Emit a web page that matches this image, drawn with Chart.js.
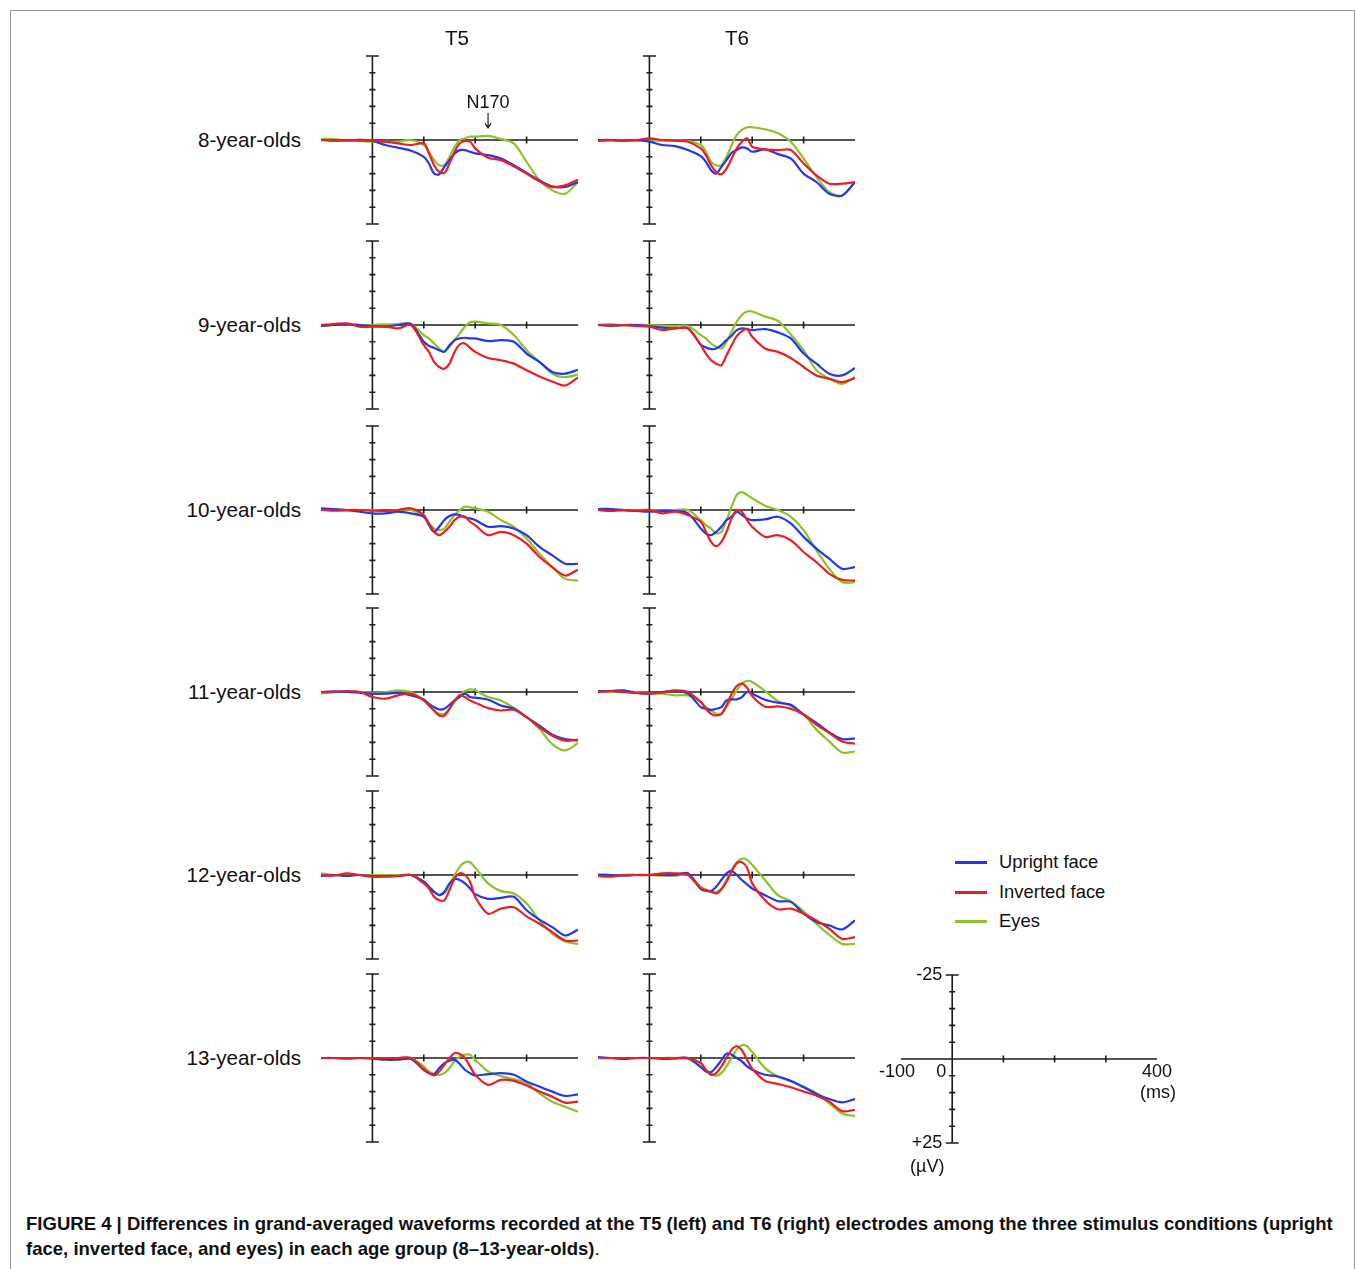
<!DOCTYPE html>
<html>
<head>
<meta charset="utf-8">
<script src="https://cdn.jsdelivr.net/npm/chart.js@4.4.1/dist/chart.umd.min.js"></script>
<style>
  body { margin: 0; background: #fff; }
  #fig { position: relative; width: 1355px; height: 1269px; overflow: hidden;
         font-family: "Liberation Sans", Arial, Helvetica, sans-serif; color: #111; }
  .frame { position: absolute; left: 10px; top: 10px; width: 1343px; height: 1300px; border: 1px solid #9a9a9a; }
  canvas { position: absolute; }
  .lbl { position: absolute; font-size: 20.6px; line-height: 20px; white-space: nowrap; }
  .row { text-align: right; width: 200px; }
  .col { text-align: center; width: 60px; }
  .leg { position: absolute; font-size: 18.4px; line-height: 20px; white-space: nowrap; }
  .leg span { position: absolute; left: -44px; top: 9px; width: 32px; height: 3px; }
  .cap { position: absolute; left: 26px; top: 1211px; font-size: 18.55px; line-height: 25px; font-weight: bold; white-space: nowrap; }
  .cap i { font-style: normal; font-weight: normal; }
</style>
</head>
<body>
<div id="fig">
  <div class="frame"></div>
  <div class="cap">FIGURE 4 | Differences in grand-averaged waveforms recorded at the T5 (left) and T6 (right) electrodes among the three stimulus conditions (upright<br>face, inverted face, and eyes) in each age group (8–13-year-olds)<i>.</i></div>
</div>
<script>
// time points (ms) and values (µV, negative up)
const times = [-100, -75, -50, -25, 0, 25, 50, 75, 100, 110, 120, 130, 140, 150, 160, 170, 180, 190, 200, 225, 250, 275, 300, 325, 350, 375, 400]

const ageGroups = ['8-year-olds', '9-year-olds', '10-year-olds', '11-year-olds', '12-year-olds', '13-year-olds']
const electrodes = ['T5', 'T6']
const conditions = ['Upright face', 'Inverted face', 'Eyes']
const colors = ['rgb(35, 55, 235)', 'rgb(235, 30, 35)', 'rgb(140, 195, 40)']

const xTicks = [100, 200, 300]
const yTicks = [-25, -20, -15, -10, -5, 5, 10, 15, 20, 25]

// 8-year-olds
const up8T5   = [0, 0.2, 0, 0.1, 0.3, 1.5, 2.3, 3.2, 5, 7, 10, 10.2, 8, 6, 4, 3, 3, 3.5, 4, 4.5, 5.5, 7.5, 9.8, 12, 13.8, 14, 12.5]
const inv8T5  = [0, 0.1, 0.2, -0.1, 0.2, 0.5, 1, 1.5, 1, 4, 7.5, 9.5, 9.8, 7, 3.5, 1, 0.3, 0.5, 2.5, 5.3, 6, 7.8, 10, 12.3, 14, 13.5, 11.8]
const eyes8T5 = [-0.3, -0.3, 0.2, 0.3, 0.5, 0.5, 0.5, 0, 1.5, 3.5, 6, 7.5, 7.5, 5, 2, 0, -0.5, -1, -1, -1.2, -0.3, 1, 6.5, 12, 15, 16, 12.5]
const up8T6   = [0, 0, 0.2, 0, 0.5, 1.5, 1.8, 3, 4.8, 6.5, 9, 10, 8, 6, 3.8, 3, 2.2, 2.5, 3.5, 2.8, 4.2, 5.5, 10, 12.5, 16, 16.5, 12.5]
const inv8T6  = [0.3, 0, 0.2, 0, -0.5, 0, 0.2, 0.5, 2.5, 4.5, 7.5, 9.5, 10.2, 8.5, 5.5, 2.5, 0.5, -0.5, 2, 2.8, 3, 3, 7, 10.5, 13, 13, 12.5]
const eyes8T6 = [0, 0.2, 0, 0.3, 0.2, 0.2, 0.2, 0.3, 1.5, 3.5, 6.5, 7.5, 7.5, 5, 1.5, -1.5, -3, -3.8, -3.8, -3.2, -2, 0.5, 5.5, 11, 15.5, 16.5, 12.5]

// 9-year-olds
const up9T5   = [0.3, 0, -0.2, 0, 0.3, 0.5, 0, -0.3, 5, 6.2, 6.8, 7.5, 8, 6, 4.5, 4, 3.8, 4, 4, 4.8, 4.5, 5, 8.5, 11, 14, 14.5, 13.3]
const inv9T5  = [0, -0.3, -0.5, 0.5, 0.5, 0.5, 1, 0, 6, 8, 11, 12.5, 13, 11.5, 8, 5.8, 5.5, 6.8, 8, 9.8, 10.5, 11.5, 13.5, 15.3, 16.8, 18, 15.6]
const eyes9T5 = [0.3, 0, -0.2, 0, 0, -0.2, -0.3, -0.3, 3, 4, 5.5, 7, 7.8, 6.5, 4.5, 2.5, 0.5, -0.8, -1, -0.5, 0, 3, 7.5, 11, 14.5, 15.5, 14.8]
const up9T6   = [0, 0.2, 0, 0, 0.3, 0.8, 1, 1, 5.8, 6.7, 7.2, 7, 6, 4.5, 3.2, 1.5, 1, 1.2, 1.5, 1.2, 2.2, 4, 8.5, 11.5, 14.5, 15, 12.8]
const inv9T6  = [0, 0.2, 0, 0.3, 0.5, 1.5, 1, 1, 6, 8.5, 10.5, 11.5, 12, 9, 6, 3.3, 1.8, 1.2, 3.5, 7, 8, 9.8, 12.5, 15, 16, 17, 15.8]
const eyes9T6 = [0, -0.3, 0.2, 0, 0, 0.2, 0.3, 0.3, 3, 4, 5.5, 6.5, 7, 5, 2, -1, -3, -4, -4, -2.5, -1.2, 2.8, 7.5, 13.5, 16, 17.5, 15.5]

// 10-year-olds
const up10T5   = [-0.5, -0.3, 0, 0.5, 1, 1, 0.5, 1, 2, 4.5, 6.5, 5, 3, 1.8, 1.3, 1.5, 2.2, 2.5, 3, 5, 4.8, 5.5, 7.5, 11, 13.5, 16, 16]
const inv10T5  = [0, 0.2, 0, 0, 0.2, 0.3, 0, -0.5, 1.5, 4, 6.5, 7.5, 6.5, 5, 3, 2, 2, 3.5, 4.5, 7.5, 6.5, 7.5, 10, 14, 17, 19.5, 17.8]
const eyes10T5 = [0, 0, 0.2, 0, 0, 0.3, 0, 0, 2, 4, 5.5, 6, 5.5, 3.5, 1.5, 0, -1, -0.8, -0.5, 0.5, 3, 5, 8.5, 13, 17, 20.5, 21]
const up10T6   = [-0.3, -0.3, 0, 0.3, 0.5, 0.3, 0.3, 1, 5.5, 7, 7.5, 6.5, 5, 3, 2, 0.5, 1.5, 2.5, 3, 2.8, 2, 4, 8, 11.5, 14.5, 17.5, 17]
const inv10T6  = [0, 0.3, 0, 0.2, 0, 1, 0.5, 1.5, 3.5, 6.5, 9.5, 10.8, 9.5, 6.5, 2.5, 0, 0.5, 3, 5, 8, 7.5, 9, 12.5, 15.5, 19, 20.8, 21]
const eyes10T6 = [0, 0, 0.2, 0, 0, 0.2, 0, 0, 3, 4.5, 5.5, 7, 6.5, 3, -1, -4.5, -5.3, -4.5, -3.5, -1.3, 0, 2, 6, 12, 17.5, 21.5, 21.5]

// 11-year-olds
const up11T5   = [0, -0.2, 0, 0.2, 0.5, 0.5, 0.3, 1, 2.2, 3.5, 4.5, 5.2, 5, 3.8, 2.5, 1.5, 0.5, 1.5, 1.7, 2.3, 4, 5, 7.5, 10, 12.7, 14, 14.4]
const inv11T5  = [0, 0, -0.3, 0, 1.5, 2, 1, 0.5, 2.5, 4, 5.5, 7, 7, 5, 2.5, 1, 1.5, 2.5, 3.2, 4.8, 5.5, 5.3, 7.5, 10.5, 13, 14.5, 14.2]
const eyes11T5 = [0.5, 0, -0.3, 0, 0.2, 0, -0.5, 0, 2.5, 4, 5.5, 6.5, 6.5, 5, 3, 1, -0.3, -0.8, -0.5, 1.5, 2.5, 4.7, 7.5, 11, 15.5, 17.4, 15.2]
const up11T6   = [-0.3, -0.3, -0.5, 0.3, 0.5, 0, -0.3, 0.5, 4.5, 5, 5.3, 5, 4.5, 2.5, 2.2, 2.2, 1.5, 0, 0.5, 2.3, 3.2, 3.8, 6.7, 9.2, 12, 14, 13.8]
const inv11T6  = [0, -0.3, 0, 0.3, 0.5, 0.2, -0.5, 0, 3, 5, 6.5, 7, 6.5, 4, 0.5, -1.8, -2.5, -1.3, 1.2, 4.4, 4.3, 5, 6.7, 9.7, 12.2, 14.7, 15.4]
const eyes11T6 = [0, 0, -0.2, 0, 0.3, 0.5, 1, 1, 3, 4.5, 5.5, 6.5, 6.5, 4.5, 2, -0.5, -2.5, -3.3, -3, -0.3, 2.7, 4.2, 6.7, 11.2, 14.7, 18, 17.7]

// 12-year-olds
const up12T5   = [0.3, 0, 0.3, 0, 0.3, 0.3, 0.3, 0, 2, 3.5, 5, 6, 5, 2.5, 1.2, 1.5, 2.5, 4, 5.7, 7.1, 6.8, 6.5, 10.5, 13.3, 15.5, 18, 16.3]
const inv12T5  = [0, 0.2, -0.5, 0, 0.5, 0.5, 0.3, 0, 2.5, 4, 6.5, 7.5, 7.5, 4.5, 1, -0.5, 0, 2, 6.5, 11.5, 10, 9.6, 12.3, 14.5, 17, 19.5, 19.5]
const eyes12T5 = [-0.5, 0, 0, 0, 0, 0, 0, 0, 2, 3.5, 5, 6, 5.5, 3, 0, -2.5, -3.8, -3.8, -2.2, 2.5, 4.8, 5.5, 8.5, 13.5, 17.5, 19.8, 20.5]
const up12T6   = [0, 0, 0.2, 0, 0, 0, 0, -0.5, 4.2, 4.7, 4.8, 3.5, 1.5, -0.5, -1.2, 0, 1.5, 2.8, 4, 6, 7.8, 8, 11.5, 14, 15, 16.2, 13.5]
const inv12T6  = [0.3, 0.5, 0, 0, 0, -0.5, -0.5, 0, 4, 4.5, 5, 5.5, 4.3, 2, -1, -3.5, -3.8, -2.2, 2.5, 7.5, 10.2, 10, 11.5, 13.5, 16, 19, 18.5]
const eyes12T6 = [-0.3, 0, 0, 0, 0, 0.2, 0.2, 0, 3.5, 4.3, 4.8, 5, 4, 1.5, -1.5, -3.8, -4.8, -4.5, -3, 1.5, 6, 7.8, 10.8, 14.5, 17.8, 20.5, 20.5]

// 13-year-olds
const up13T5   = [0, 0, 0.2, 0, 0.2, 0.5, 0.5, 0.3, 3.6, 4.5, 4.8, 3, 1.5, 0.8, 0.5, 1.8, 3.5, 4.5, 5.2, 4.8, 4.5, 5, 7, 8.5, 10, 11.3, 10.8]
const inv13T5  = [0, 0, 0, 0, 0, 0, 0, 0, 3.3, 4.5, 5.2, 4, 2, 0, -1.5, -1.2, 0, 2.5, 5, 8, 6.5, 6.8, 8.2, 10, 11.5, 13.3, 13]
const eyes13T5 = [0, 0, 0, 0, 0, 0, 0, 0, 2.5, 4, 4.8, 5, 4.5, 3, 1, -0.5, -1, -1, 0.5, 4, 5.4, 6.3, 7.5, 10.5, 13, 14.5, 16]
const up13T6   = [-0.3, 0, 0.3, 0, 0, 0.3, 0.2, 0, 2.7, 4, 4.2, 2.7, 0.7, -1.3, -1, 0, 1, 2.5, 3.5, 5, 5.5, 6.8, 8.7, 10.7, 12.2, 13.2, 12.2]
const inv13T6  = [0, 0, 0, 0, 0, 0, 0, 0, 1.5, 3.5, 5, 4.5, 2.5, 0, -2.5, -3.5, -2.3, 0.5, 3.2, 6.8, 7.7, 8.7, 10, 11.2, 13, 15.8, 15.4]
const eyes13T6 = [0, 0, 0, 0, 0, 0, 0, 0.3, 2.5, 3.5, 4.5, 5.3, 4.5, 2.5, 0, -2.5, -3.8, -3.5, -1.8, 3, 5.5, 7, 8.5, 10.5, 13.5, 16.5, 17.3]

const panelData = [
  [[up8T5, inv8T5, eyes8T5], [up8T6, inv8T6, eyes8T6]],
  [[up9T5, inv9T5, eyes9T5], [up9T6, inv9T6, eyes9T6]],
  [[up10T5, inv10T5, eyes10T5], [up10T6, inv10T6, eyes10T6]],
  [[up11T5, inv11T5, eyes11T5], [up11T6, inv11T6, eyes11T6]],
  [[up12T5, inv12T5, eyes12T5], [up12T6, inv12T6, eyes12T6]],
  [[up13T5, inv13T5, eyes13T5], [up13T6, inv13T6, eyes13T6]]
]

// layout (plot area of every panel)
const colLeft = [321, 598]
const rowTop = [56, 241, 426, 608, 791, 974]
const plotW = 257
const plotH = 168
const pad = 8
const fig = document.getElementById('fig')

// draws the cross-shaped axes with their ticks
const erpAxes = {
  id: 'erpAxes',
  beforeDatasetsDraw(chart) {
    const { ctx, scales: { x, y } } = chart
    const x0 = x.getPixelForValue(0)
    const y0 = y.getPixelForValue(0)
    ctx.save()
    ctx.strokeStyle = '#1c1c1c'
    ctx.lineWidth = 1.6
    ctx.beginPath()
    ctx.moveTo(x.getPixelForValue(x.min), y0)
    ctx.lineTo(x.getPixelForValue(x.max), y0)
    ctx.moveTo(x0, y.getPixelForValue(y.min))
    ctx.lineTo(x0, y.getPixelForValue(y.max))
    xTicks.forEach(v => {
      const px = x.getPixelForValue(v)
      ctx.moveTo(px, y0 - 3.5)
      ctx.lineTo(px, y0 + 3.5)
    })
    yTicks.forEach(v => {
      const py = y.getPixelForValue(v)
      const half = (v === y.min || v === y.max) ? 6.5 : 3
      ctx.moveTo(x0 - half, py)
      ctx.lineTo(x0 + half, py)
    })
    ctx.stroke()
    ctx.restore()
  }
}

// text labels placed at axis values (with small pixel offsets)
const axisText = {
  id: 'axisText',
  afterDraw(chart, args, opts) {
    if (!opts.items) return
    const { ctx, scales: { x, y } } = chart
    ctx.save()
    ctx.fillStyle = '#111'
    ctx.font = opts.font
    ctx.textBaseline = 'middle'
    opts.items.forEach(it => {
      ctx.textAlign = it.align || 'center'
      ctx.fillText(it.text, x.getPixelForValue(it.x) + (it.dx || 0), y.getPixelForValue(it.y) + (it.dy || 0))
    })
    if (opts.arrow) {
      const a = opts.arrow
      const ax = x.getPixelForValue(a.x)
      const yTop = y.getPixelForValue(a.from)
      const yTip = y.getPixelForValue(a.to)
      ctx.strokeStyle = '#111'
      ctx.lineWidth = 1.1
      ctx.beginPath()
      ctx.moveTo(ax, yTop)
      ctx.lineTo(ax, yTip)
      ctx.moveTo(ax - 3, yTip - 4.5)
      ctx.lineTo(ax, yTip)
      ctx.lineTo(ax + 3, yTip - 4.5)
      ctx.stroke()
    }
    ctx.restore()
  }
}

function makeChart(left, top, w, h, padding, datasets, textOpts) {
  const canvas = document.createElement('canvas')
  const p = typeof padding === 'number' ? { left: padding, right: padding, top: padding, bottom: padding } : padding
  canvas.width = w + p.left + p.right
  canvas.height = h + p.top + p.bottom
  canvas.style.left = (left - p.left) + 'px'
  canvas.style.top = (top - p.top) + 'px'
  fig.appendChild(canvas)
  return new Chart(canvas.getContext('2d'), {
    type: 'line',
    data: { datasets: datasets },
    options: {
      responsive: false,
      animation: false,
      devicePixelRatio: 1,
      events: [],
      layout: { padding: p },
      plugins: {
        legend: { display: false },
        tooltip: { enabled: false },
        axisText: textOpts || {}
      },
      scales: {
        x: { type: 'linear', min: -100, max: 400, display: false },
        y: { type: 'linear', min: -25, max: 25, reverse: true, display: false }
      },
      elements: { point: { radius: 0 }, line: { borderWidth: 2.2, tension: 0.3 } }
    },
    plugins: [erpAxes, axisText]
  })
}

panelData.forEach((row, r) => {
  row.forEach((series, c) => {
    // red drawn on top, then blue, then green
    const order = [1, 0, 2]
    const datasets = order.map(k => ({
      label: conditions[k],
      data: times.map((t, i) => ({ x: t, y: series[k][i] })),
      borderColor: colors[k],
      borderWidth: 2.2,
      fill: false
    }))
    const textOpts = (r === 0 && c === 0) ? {
      font: '18px "Liberation Sans", Arial, sans-serif',
      items: [{ text: 'N170', x: 225, y: -11 }],
      arrow: { x: 225, from: -8, to: -3.6 }
    } : {}
    makeChart(colLeft[c], rowTop[r], plotW, plotH, pad, datasets, textOpts)
  })
  const lab = document.createElement('div')
  lab.className = 'lbl row'
  lab.textContent = ageGroups[r]
  lab.style.left = (301 - 200) + 'px'
  lab.style.top = (rowTop[r] + plotH / 2 - 10) + 'px'
  fig.appendChild(lab)
})

electrodes.forEach((name, c) => {
  const d = document.createElement('div')
  d.className = 'lbl col'
  d.textContent = name
  d.style.left = ([457, 737][c] - 30) + 'px'
  d.style.top = '28px'
  fig.appendChild(d)
})

// legend
conditions.forEach((name, k) => {
  const d = document.createElement('div')
  d.className = 'leg'
  d.style.left = '999px'
  d.style.top = (852 + k * 29.5) + 'px'
  d.innerHTML = '<span style="background:' + colors[k] + '"></span>' + name
  fig.appendChild(d)
})

// calibration scale
makeChart(901, 975, 256, 168, { left: 40, right: 30, top: 15, bottom: 40 }, [], {
  font: '18px "Liberation Sans", Arial, sans-serif',
  items: [
    { text: '-25', x: 0, y: -25, dx: -10, align: 'right' },
    { text: '+25', x: 0, y: 25, dx: -10, align: 'right' },
    { text: '(\u00b5V)', x: 0, y: 25, dx: -25, dy: 24 },
    { text: '-100', x: -100, y: 0, dx: -4, dy: 13 },
    { text: '0', x: 0, y: 0, dx: -11, dy: 13 },
    { text: '400', x: 400, y: 0, dy: 13 },
    { text: '(ms)', x: 400, y: 0, dx: 1, dy: 34 }
  ]
})
</script>
</body>
</html>
